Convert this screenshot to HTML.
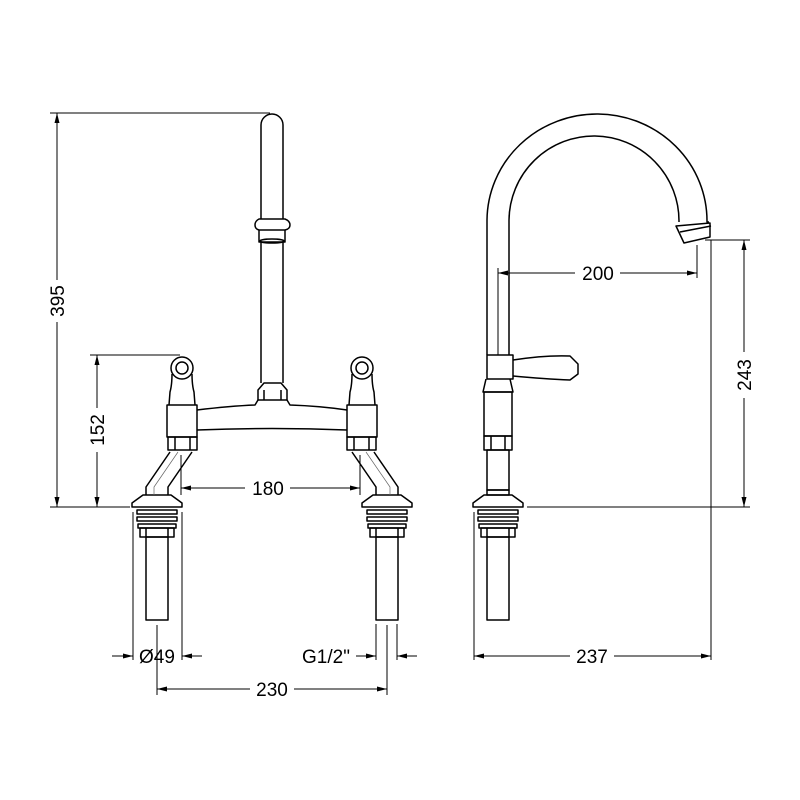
<!DOCTYPE html>
<html><head><meta charset="utf-8"><style>body{margin:0;background:#fff}svg{display:block}</style></head>
<body>
<svg width="800" height="800" viewBox="0 0 800 800" xmlns="http://www.w3.org/2000/svg">
<defs>
<marker id="a" markerWidth="10" markerHeight="6" refX="10" refY="3" orient="auto-start-reverse" markerUnits="userSpaceOnUse"><path d="M0,0.5 L10,3 L0,5.5 z" fill="#000"/></marker>
<g id="leg">
<path d="M-25,507 L25,507 L25,503 L14,495 L-14,495 L-25,503 Z"/>
<rect x="-20" y="510" width="40" height="4"/>
<rect x="-20" y="517" width="40" height="4"/>
<rect x="-19" y="524" width="38" height="4"/>
<rect x="-17" y="528" width="34" height="9"/>
<line x1="-11" y1="528" x2="-11" y2="537"/><line x1="11" y1="528" x2="11" y2="537"/>
<rect x="-11" y="537" width="22" height="83"/>
</g>
</defs>
<g fill="none" stroke="#000" stroke-width="1.5" stroke-linejoin="round">
<use href="#leg" x="157"/>
<use href="#leg" x="387"/>
<use href="#leg" x="498"/>
<path d="M146,495 L146,487 L170,452 M168,495 L168,487 L192,452"/>
<path d="M154,495 L154,487 L178,452" stroke-width="0.7" stroke="#666"/>
<path d="M398,495 L398,487 L374,452 M376,495 L376,487 L352,452"/>
<path d="M390,495 L390,487 L366,452" stroke-width="0.7" stroke="#666"/>
<!-- left body -->
<rect x="167" y="405" width="30" height="32"/>
<rect x="168" y="437" width="29" height="13"/>
<line x1="175" y1="437" x2="175" y2="450"/><line x1="190" y1="437" x2="190" y2="450"/>
<circle cx="182" cy="368" r="11"/>
<circle cx="182" cy="368" r="6"/>
<path d="M172,374 Q172,385 170,392 L169,405 M192,374 Q192,385 194,392 L195,405"/>
<!-- right body -->
<rect x="347" y="405" width="30" height="32"/>
<rect x="347" y="437" width="29" height="13"/>
<line x1="354" y1="437" x2="354" y2="450"/><line x1="369" y1="437" x2="369" y2="450"/>
<circle cx="362" cy="368" r="11"/>
<circle cx="362" cy="368" r="6"/>
<path d="M352,374 Q352,385 350,392 L349,405 M372,374 Q372,385 374,392 L375,405"/>
<!-- bridge -->
<path d="M197,410 Q230,406 255,405 L258,400 M287,400 L290,405 Q320,406 347,410"/>
<path d="M197,430 Q272,427 347,430"/>
<path d="M258,400 L258,390 L264,383 L281,383 L287,390 L287,400 Z"/>
<line x1="264" y1="390" x2="264" y2="400"/><line x1="281" y1="390" x2="281" y2="400"/>
<!-- spout -->
<path d="M261,219 L261,125 A11,11 0 0 1 283,125 L283,219"/>
<path d="M261,242 L261,383 M283,242 L283,383"/>
<path d="M259,219 L285,219 Q290,221 290,225 Q290,229 285,230 L259,230 Q255,229 255,225 Q255,221 259,219 Z"/>
<path d="M259,230 L259,242 L285,242 L285,230"/>
<ellipse cx="272" cy="241" rx="12" ry="2"/>
<!-- right faucet -->
<path d="M487,355 L487,220 A110,107 0 0 1 707,222 L709,222"/>
<path d="M509,355 L509,220 A85,85 0 0 1 679,222"/>
<path d="M676,226 L684,243 L710,237 L710,223 Z"/>
<line x1="680" y1="232" x2="711" y2="226"/>
<rect x="487" y="355" width="26" height="24"/>
<path d="M513,360 Q545,355 570,356 L578,364 L578,374 L570,380 Q545,379 513,376"/>
<path d="M486,379 L483,392 L513,392 L510,379"/>
<rect x="484" y="392" width="28" height="44"/>
<rect x="484" y="436" width="28" height="14"/>
<line x1="491" y1="436" x2="491" y2="450"/><line x1="505" y1="436" x2="505" y2="450"/>
<rect x="487" y="450" width="22" height="40"/>
<rect x="487" y="490" width="22" height="5"/>
</g>
<g stroke="#000" stroke-width="1" fill="none">
<line x1="50" y1="113" x2="270" y2="113"/>
<line x1="50" y1="507" x2="130" y2="507"/>
<line x1="57" y1="113" x2="57" y2="280" marker-start="url(#a)"/>
<line x1="57" y1="322" x2="57" y2="507" marker-end="url(#a)"/>
<line x1="90" y1="355" x2="180" y2="355"/>
<line x1="97" y1="355" x2="97" y2="408" marker-start="url(#a)"/>
<line x1="97" y1="452" x2="97" y2="507" marker-end="url(#a)"/>
<line x1="181" y1="455" x2="181" y2="495"/>
<line x1="360" y1="455" x2="360" y2="495"/>
<line x1="181" y1="488" x2="245" y2="488" marker-start="url(#a)"/>
<line x1="290" y1="488" x2="360" y2="488" marker-end="url(#a)"/>
<line x1="133" y1="512" x2="133" y2="660"/>
<line x1="182" y1="512" x2="182" y2="660"/>
<line x1="112" y1="656" x2="133" y2="656" marker-end="url(#a)"/>
<line x1="202" y1="656" x2="182" y2="656" marker-end="url(#a)"/>
<line x1="157" y1="625" x2="157" y2="695"/>
<line x1="387" y1="625" x2="387" y2="695"/>
<line x1="376" y1="624" x2="376" y2="660"/>
<line x1="397" y1="624" x2="397" y2="660"/>
<line x1="356" y1="656" x2="376" y2="656" marker-end="url(#a)"/>
<line x1="417" y1="656" x2="397" y2="656" marker-end="url(#a)"/>
<line x1="157" y1="689" x2="250" y2="689" marker-start="url(#a)"/>
<line x1="294" y1="689" x2="387" y2="689" marker-end="url(#a)"/>
<line x1="498" y1="268" x2="498" y2="355"/>
<line x1="697" y1="245" x2="697" y2="278"/>
<line x1="498" y1="273" x2="575" y2="273" marker-start="url(#a)"/>
<line x1="620" y1="273" x2="697" y2="273" marker-end="url(#a)"/>
<line x1="705" y1="240" x2="750" y2="240"/>
<line x1="527" y1="507" x2="750" y2="507"/>
<line x1="744" y1="240" x2="744" y2="352" marker-start="url(#a)"/>
<line x1="744" y1="398" x2="744" y2="507" marker-end="url(#a)"/>
<line x1="711" y1="240" x2="711" y2="660"/>
<line x1="474" y1="512" x2="474" y2="660"/>
<line x1="474" y1="656" x2="570" y2="656" marker-start="url(#a)"/>
<line x1="614" y1="656" x2="711" y2="656" marker-end="url(#a)"/>
</g>
<g font-family="'Liberation Sans', sans-serif" font-size="19" fill="#000" text-anchor="middle">
<text x="268" y="495">180</text>
<text x="157" y="663">Ø49</text>
<text x="326" y="663">G1/2"</text>
<text x="272" y="696">230</text>
<text x="598" y="280">200</text>
<text x="592" y="663">237</text>
<text transform="translate(64,301) rotate(-90)">395</text>
<text transform="translate(104,430) rotate(-90)">152</text>
<text transform="translate(751,375) rotate(-90)">243</text>
</g>
</svg>
</body></html>
